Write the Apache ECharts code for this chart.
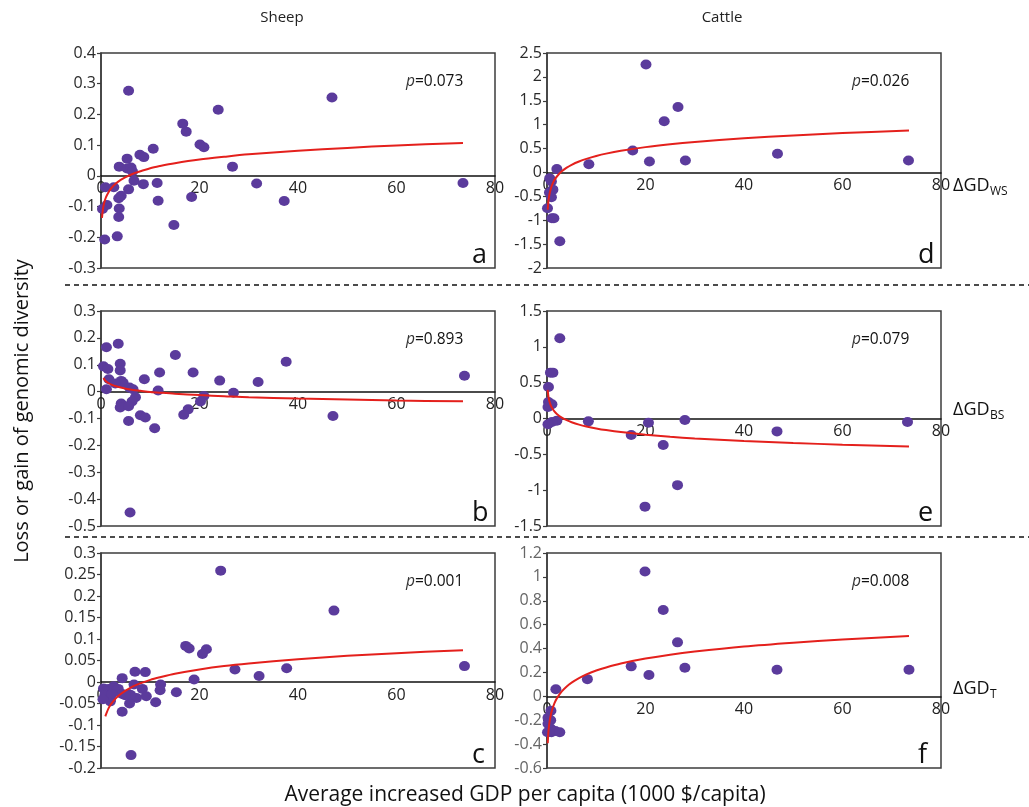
<!DOCTYPE html>
<html>
<head>
<meta charset="utf-8">
<script src="https://cdn.jsdelivr.net/npm/echarts@6/dist/echarts.min.js"></script>
<style>
  html, body { margin: 0; padding: 0; background: #fff; }
  #chart { width: 1029px; height: 807px; }
</style>
</head>
<body>
<div id="chart"></div>
<script>
// ---- Sheep, within-breed diversity change (panel a) ----
const sheepWs = [
  [5.6,0.277],[46.9,0.255],[23.8,0.215],[16.6,0.170],[17.3,0.144],[20.1,0.102],[20.9,0.093],
  [10.6,0.088],[7.9,0.069],[8.7,0.061],[5.3,0.056],[3.7,0.030],[5.3,0.024],[6.1,0.027],
  [6.4,0.014],[26.7,0.030],[6.7,-0.016],[8.6,-0.027],[11.4,-0.023],[31.6,-0.025],[73.5,-0.023],
  [0.9,-0.037],[2.6,-0.037],[5.6,-0.044],[4.1,-0.065],[3.6,-0.073],[11.6,-0.081],[18.4,-0.069],
  [37.2,-0.082],[1.2,-0.095],[0.3,-0.108],[3.7,-0.106],[3.6,-0.134],[14.8,-0.160],[3.3,-0.197],
  [0.75,-0.207]
];
const sheepWsFit = [
  [0.2,-0.137],[0.35,-0.114],[0.5,-0.099],[0.75,-0.082],[1,-0.070],[1.5,-0.054],[2,-0.042],
  [3,-0.025],[4,-0.013],[5,-0.004],[6.5,0.007],[8,0.015],[10,0.025],[12,0.032],[15,0.041],
  [20,0.053],[25,0.062],[30,0.070],[40,0.082],[50,0.091],[60,0.099],[73.5,0.107]
];

// ---- Sheep, between-breed diversity change (panel b) ----
const sheepBs = [
  [1.1,0.165],[3.5,0.178],[15.1,0.136],[37.6,0.111],[0.5,0.094],[1.4,0.084],[3.9,0.104],
  [3.9,0.079],[11.9,0.071],[18.7,0.071],[1.6,0.046],[8.8,0.046],[4.1,0.040],[4.5,0.033],
  [2.9,0.030],[24.1,0.041],[31.9,0.036],[73.8,0.059],[1.1,0.009],[5.8,0.015],[6.5,0.009],
  [11.6,0.004],[26.9,-0.004],[20.9,-0.016],[20.2,-0.037],[7.0,-0.021],[6.3,-0.037],
  [4.1,-0.044],[3.9,-0.059],[5.6,-0.054],[17.7,-0.066],[16.8,-0.086],[8.0,-0.088],
  [9.0,-0.096],[5.6,-0.109],[10.9,-0.136],[47.1,-0.091],[5.9,-0.450]
];
const sheepBsFit = [
  [0.5,0.051],[0.75,0.044],[1,0.039],[1.5,0.032],[2,0.027],[3,0.020],[4,0.015],[5,0.011],
  [6.5,0.006],[8,0.003],[10,-0.001],[12,-0.004],[15,-0.008],[20,-0.013],[25,-0.017],
  [30,-0.021],[40,-0.026],[50,-0.029],[60,-0.033],[73.5,-0.036]
];

// ---- Sheep, total diversity change (panel c) ----
const sheepT = [
  [24.3,0.259],[47.3,0.166],[17.2,0.084],[17.9,0.078],[21.4,0.076],[20.6,0.065],[73.8,0.037],
  [27.2,0.029],[37.7,0.032],[32.1,0.014],[18.9,0.006],[6.9,0.024],[9.0,0.023],[4.3,0.009],
  [12.1,-0.006],[12.0,-0.019],[15.3,-0.024],[8.4,-0.016],[6.7,-0.006],[9.2,-0.033],
  [7.2,-0.037],[11.1,-0.047],[5.8,-0.050],[4.3,-0.069],[6.1,-0.170],[0.9,-0.035],
  [1.9,-0.040],[1.3,-0.023],[1.5,-0.016],[3.5,-0.016],[5.6,-0.028],[6.0,-0.030],
  [0.5,-0.015],[1.0,-0.022],[0.8,-0.030],[1.9,-0.045],[2.6,-0.010],[3.2,-0.020],
  [4.3,-0.028],[4.9,-0.031],[0.4,-0.040],[2.2,-0.028]
];
const sheepTFit = [
  [0.88,-0.080],[1,-0.076],[1.5,-0.062],[2,-0.052],[3,-0.038],[4,-0.028],[5,-0.020],
  [6.5,-0.010],[8,-0.003],[10,0.005],[12,0.011],[15,0.019],[20,0.029],[25,0.037],
  [30,0.043],[40,0.053],[50,0.061],[60,0.067],[73.5,0.074]
];

// ---- Cattle, within-breed diversity change (panel d) ----
const cattleWs = [
  [20.1,2.26],[26.6,1.37],[23.8,1.07],[17.4,0.46],[46.8,0.39],[8.5,0.17],[20.8,0.23],
  [28.1,0.25],[73.4,0.25],[2.0,0.07],[0.55,-0.12],[0.9,-0.19],[1.2,-0.36],[0.5,-0.42],
  [0.9,-0.52],[0.1,-0.75],[1.0,-0.96],[1.4,-0.96],[2.6,-1.44]
];
const cattleWsFit = [
  [0.15,-0.78],[0.25,-0.64],[0.35,-0.55],[0.5,-0.455],[0.75,-0.35],[1,-0.27],[1.5,-0.16],
  [2,-0.085],[3,0.023],[4,0.10],[5,0.16],[6.5,0.23],[8,0.285],[10,0.345],[12,0.394],
  [15,0.453],[20,0.53],[25,0.59],[30,0.638],[40,0.715],[50,0.775],[60,0.823],[73.5,0.877]
];

// ---- Cattle, between-breed diversity change (panel e) ----
const cattleBs = [
  [2.6,1.12],[0.7,0.64],[1.2,0.64],[0.3,0.44],[0.3,0.23],[1.0,0.20],[0.2,0.16],[0.6,0.19],
  [2.0,-0.03],[1.0,-0.05],[0.2,-0.08],[8.4,-0.04],[20.6,-0.06],[28.0,-0.02],[73.2,-0.05],
  [46.7,-0.18],[17.1,-0.23],[23.6,-0.37],[26.5,-0.93],[19.9,-1.23]
];
const cattleBsFit = [
  [0.14,0.399],[0.25,0.326],[0.35,0.283],[0.5,0.238],[0.75,0.187],[1,0.151],[1.5,0.100],
  [2,0.064],[3,0.013],[4,-0.024],[5,-0.052],[6.5,-0.085],[8,-0.111],[10,-0.139],[12,-0.162],
  [15,-0.190],[20,-0.226],[25,-0.255],[30,-0.278],[40,-0.314],[50,-0.342],[60,-0.365],
  [73.5,-0.390]
];

// ---- Cattle, total diversity change (panel f) ----
const cattleT = [
  [19.9,1.045],[23.6,0.723],[26.5,0.452],[17.1,0.251],[28.0,0.240],[46.7,0.223],[73.5,0.223],
  [8.2,0.144],[20.7,0.178],[1.8,0.060],[0.8,-0.12],[0.2,-0.18],[0.75,-0.20],[0.2,-0.23],
  [0.75,-0.27],[0.1,-0.30],[0.9,-0.30],[1.7,-0.29],[2.6,-0.30]
];
const cattleTFit = [
  [0.15,-0.393],[0.25,-0.319],[0.35,-0.270],[0.5,-0.218],[0.75,-0.160],[1,-0.118],
  [1.5,-0.059],[2,-0.017],[3,0.041],[4,0.083],[5,0.115],[6.5,0.153],[8,0.184],[10,0.216],
  [12,0.242],[15,0.275],[20,0.316],[25,0.349],[30,0.375],[40,0.417],[50,0.449],[60,0.476],
  [73.5,0.505]
];

// y-axis ranges: [min, max, interval]
const yRangeA = [-0.3, 0.4, 0.1];
const yRangeB = [-0.5, 0.3, 0.1];
const yRangeC = [-0.2, 0.3, 0.05];
const yRangeD = [-2, 2.5, 0.5];
const yRangeE = [-1.5, 1.5, 0.5];
const yRangeF = [-0.6, 1.2, 0.2];
const xRange = [0, 80, 20];

const pValues = ['0.073', '0.893', '0.001', '0.026', '0.079', '0.008'];
const panelLetters = ['a', 'b', 'c', 'd', 'e', 'f'];
const columnTitles = ['Sheep', 'Cattle'];
const rowLabels = [['ΔGD', 'WS'], ['ΔGD', 'BS'], ['ΔGD', 'T']];

const FONT = 'Open Sans';
const DOT = '#5b3b9c';
const FIT = '#e4201c';

// panel geometry (pixels)
const colLeft = [101, 547];
const rowTop = [53, 311, 553];
const W = 394, H = 215;

const panels = [
  { pts: sheepWs,  fit: sheepWsFit,  yr: yRangeA, col: 0, row: 0, lab: '#2a2a2a' },
  { pts: sheepBs,  fit: sheepBsFit,  yr: yRangeB, col: 0, row: 1, lab: '#2a2a2a' },
  { pts: sheepT,   fit: sheepTFit,   yr: yRangeC, col: 0, row: 2, lab: '#2a2a2a' },
  { pts: cattleWs, fit: cattleWsFit, yr: yRangeD, col: 1, row: 0, lab: '#2a2a2a' },
  { pts: cattleBs, fit: cattleBsFit, yr: yRangeE, col: 1, row: 1, lab: '#2a2a2a' },
  { pts: cattleT,  fit: cattleTFit,  yr: yRangeF, col: 1, row: 2, lab: '#666' }
];

const grid = [], xAxis = [], yAxis = [], series = [], graphic = [];

panels.forEach((p, i) => {
  const left = colLeft[p.col], top = rowTop[p.row];
  // distance of the y = 0 line above the panel's bottom edge
  const zeroLift = H * (0 - p.yr[0]) / (p.yr[1] - p.yr[0]);
  grid.push({ left: left, top: top, width: W, height: H, show: true,
              borderColor: '#3c3c3c', borderWidth: 1.5, backgroundColor: 'transparent' });
  xAxis.push({
    type: 'value', gridIndex: i, min: xRange[0], max: xRange[1], interval: xRange[2],
    position: 'bottom', offset: -zeroLift,
    axisLine: { onZero: false, lineStyle: { color: '#111', width: 1.5 } },
    axisTick: { show: false },
    splitLine: { show: false },
    axisLabel: { fontFamily: FONT, fontSize: 16, color: '#222', margin: 5,
                 showMinLabel: true, showMaxLabel: true }
  });
  yAxis.push({
    type: 'value', gridIndex: i, min: p.yr[0], max: p.yr[1], interval: p.yr[2],
    axisLine: { show: true, onZero: false, lineStyle: { color: '#3c3c3c', width: 1.5 } },
    axisTick: { show: true, length: 4, lineStyle: { color: '#3c3c3c', width: 1.2 } },
    splitLine: { show: false },
    axisLabel: { fontFamily: FONT, fontSize: 16, color: p.lab, margin: 5 }
  });
  series.push({
    type: 'scatter', xAxisIndex: i, yAxisIndex: i, data: p.pts,
    symbol: 'circle', symbolSize: [11, 10],
    itemStyle: { color: DOT, opacity: 1 }, z: 3
  });
  series.push({
    type: 'line', xAxisIndex: i, yAxisIndex: i, data: p.fit,
    showSymbol: false, smooth: 0.3,
    lineStyle: { color: FIT, width: 2 }, z: 4
  });
  // p-value label
  graphic.push({
    type: 'text', left: left + W - 89, top: top + 21,
    style: {
      text: '{p|p}{v|=' + pValues[i] + '}',
      rich: {
        p: { fontFamily: FONT, fontSize: 15.5, fontStyle: 'italic', fill: '#333' },
        v: { fontFamily: FONT, fontSize: 15.5, fill: '#111' }
      }
    }
  });
  // panel letter
  graphic.push({
    type: 'text', left: left + W - 23, top: top + H - 26,
    style: { text: panelLetters[i], fontFamily: FONT, fontSize: 27, fill: '#111',
             textVerticalAlign: 'top' }
  });
});

// column titles
const columnX = [282, 722];
columnTitles.forEach((t, c) => {
  graphic.push({
    type: 'text', x: columnX[c], y: 18,
    style: { text: t, fontFamily: FONT, fontSize: 15, fill: '#222',
             textAlign: 'center', textVerticalAlign: 'middle' }
  });
});

// row labels on the right (ΔGD with subscript)
const rowLabelY = [186, 410, 689];
rowLabels.forEach((r, k) => {
  graphic.push({
    type: 'text', x: 953, y: rowLabelY[k],
    style: { text: r[0], fontFamily: FONT, fontSize: 18, fill: '#111',
             textVerticalAlign: 'middle' }
  });
  graphic.push({
    type: 'text', x: 990, y: rowLabelY[k] + 6,
    style: { text: r[1], fontFamily: FONT, fontSize: 12, fill: '#111',
             textVerticalAlign: 'middle' }
  });
});

// dashed separators between rows
[285, 537].forEach(y => {
  graphic.push({
    type: 'line', shape: { x1: 65, y1: y, x2: 1029, y2: y },
    style: { stroke: '#111', lineWidth: 1.5, lineDash: [5, 4] }
  });
});

// axis titles
graphic.push({
  type: 'text', x: 22, y: 411, rotation: Math.PI / 2,
  style: { text: 'Loss or gain of genomic diversity', fontFamily: FONT, fontSize: 20,
           fill: '#111', textAlign: 'center', textVerticalAlign: 'middle' }
});
graphic.push({
  type: 'text', x: 525, y: 795,
  style: { text: 'Average increased GDP per capita (1000 $/capita)', fontFamily: FONT,
           fontSize: 21, fill: '#111', textAlign: 'center', textVerticalAlign: 'middle' }
});

const chart = echarts.init(document.getElementById('chart'), null, { renderer: 'canvas' });
chart.setOption({
  backgroundColor: '#fff',
  animation: false,
  grid, xAxis, yAxis, series, graphic
});
</script>
</body>
</html>
